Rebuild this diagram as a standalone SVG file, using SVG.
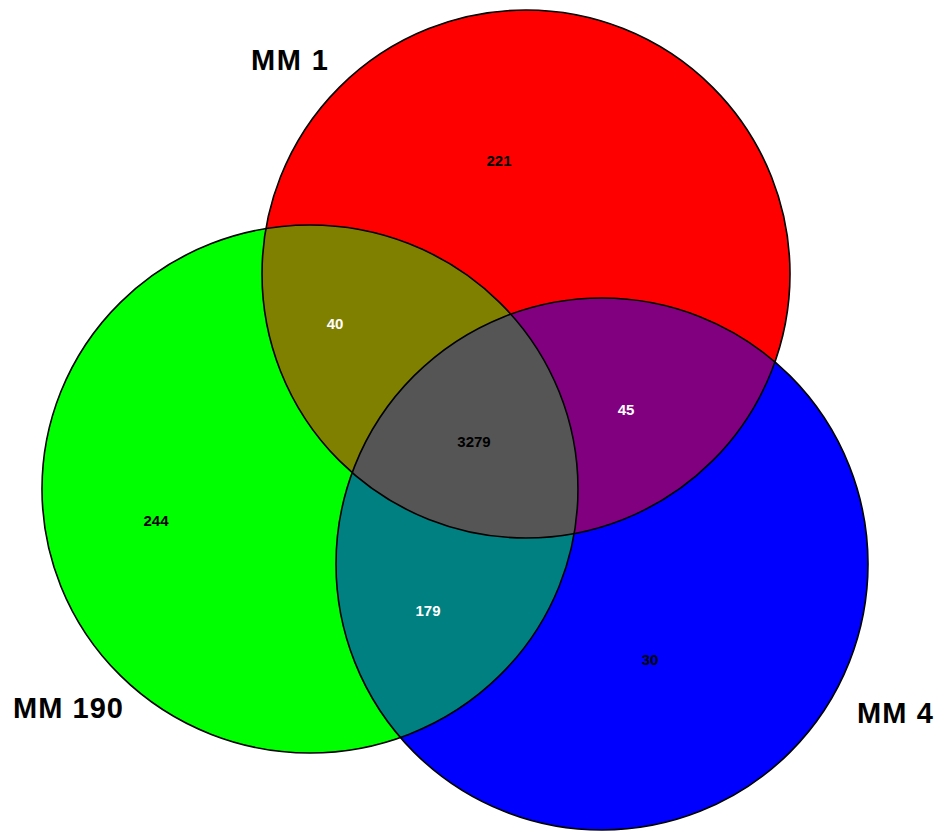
<svg xmlns="http://www.w3.org/2000/svg" width="945" height="838" viewBox="0 0 945 838">
  <style>
    .num { font-family: "Liberation Sans", Arial, sans-serif; font-weight: bold; font-size: 15px; text-anchor: middle; }
    .lbl { font-family: "Liberation Sans", Arial, sans-serif; font-weight: bold; font-size: 29px; }
    .edge { fill: none; stroke: #000; stroke-width: 1.6; }
  </style>
  <defs>
    <circle id="cR" cx="526" cy="274" r="264"/>
    <ellipse id="cG" cx="310" cy="489" rx="268" ry="264"/>
    <circle id="cB" cx="602" cy="564" r="266"/>
    <clipPath id="clipR"><use href="#cR"/></clipPath>
    <clipPath id="clipG"><use href="#cG"/></clipPath>
    <clipPath id="clipB"><use href="#cB"/></clipPath>
  </defs>
  <rect width="945" height="838" fill="#fff"/>
  <g id="set-mm1"><use href="#cR" fill="#ff0000"/></g>
  <g id="set-mm190"><use href="#cG" fill="#00ff00"/></g>
  <g id="set-mm4"><use href="#cB" fill="#0000ff"/></g>
  <g id="overlaps">
    <g clip-path="url(#clipR)"><use href="#cG" fill="#808000"/></g>
    <g clip-path="url(#clipR)"><use href="#cB" fill="#800080"/></g>
    <g clip-path="url(#clipG)"><use href="#cB" fill="#008080"/></g>
    <g clip-path="url(#clipR)"><g clip-path="url(#clipG)"><use href="#cB" fill="#555555"/></g></g>
  </g>
  <g id="outlines">
    <use href="#cR" class="edge"/>
    <use href="#cG" class="edge"/>
    <use href="#cB" class="edge"/>
  </g>
  <g id="counts">
    <text class="num" x="499" y="166" fill="#000">221</text>
    <text class="num" x="335" y="329" fill="#fff">40</text>
    <text class="num" x="474" y="447" fill="#000">3279</text>
    <text class="num" x="626" y="415" fill="#fff">45</text>
    <text class="num" x="156" y="526" fill="#000">244</text>
    <text class="num" x="428" y="616" fill="#fff">179</text>
    <text class="num" x="650" y="665" fill="#000">30</text>
  </g>
  <g id="labels">
    <text class="lbl" x="251" y="70" textLength="77">MM 1</text>
    <text class="lbl" x="13" y="718" textLength="110">MM 190</text>
    <text class="lbl" x="857" y="723" textLength="76">MM 4</text>
  </g>
</svg>
